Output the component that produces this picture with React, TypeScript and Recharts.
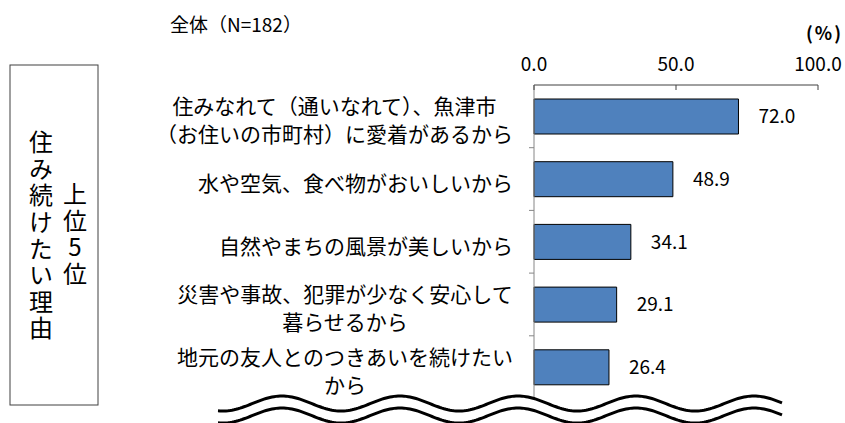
import React from 'react';
import { BarChart, Bar, XAxis, YAxis, LabelList } from 'recharts';

// chart data
const categories = [
    '住みなれて（通いなれて）、魚津市\n（お住いの市町村）に愛着があるから',
    '水や空気、食べ物がおいしいから',
    '自然やまちの風景が美しいから',
    '災害や事故、犯罪が少なく安心して\n暮らせるから',
    '地元の友人とのつきあいを続けたい\nから',
];
const values = [72.0, 48.9, 34.1, 29.1, 26.4];
const xTicks = [0, 50, 100];
const title = '全体（N=182）';
const unitLabel = '(%)';
const sideTitle = '住み続けたい理由';
const sideSubtitle = '上位5位';

const data = categories.map((name, i) => ({ name, value: values[i] }));

const W = 845;
const H = 423;
const PLOT_LEFT = 534;
const PLOT_TOP = 85;
const PLOT_BOTTOM = 398.5;
const BAND = (PLOT_BOTTOM - PLOT_TOP) / categories.length;
const FONT = '"Noto Sans CJK JP", "Noto Sans", sans-serif';

const textWidth = (s: string, fs: number) =>
    Array.from(s).reduce((w, c) => w + (c.charCodeAt(0) > 0x2000 ? fs : fs * 0.55), 0);

const YTick = (props: any) => {
    const { x, y, payload, index } = props;
    const lines = String(payload.value).split('\n');
    const fs = 21;
    const lh = 28;
    const maxW = Math.max(...lines.map((l) => textWidth(l, fs)));
    const cx = x - maxW / 2;
    const y0 = y - ((lines.length - 1) * lh) / 2 + 3;
    return (
        <g>
            {index > 0 && (
                <line x1={PLOT_LEFT - 5} x2={PLOT_LEFT} y1={y - BAND / 2} y2={y - BAND / 2} stroke="#868686" />
            )}
            {lines.map((l, i) => (
                <text
                    key={i}
                    x={cx}
                    y={y0 + i * lh}
                    textAnchor="middle"
                    dominantBaseline="central"
                    fontSize={fs}
                    fontFamily={FONT}
                    fill="#000"
                >
                    {l}
                </text>
            ))}
        </g>
    );
};

const XTick = (props: any) => {
    const { x, y, payload } = props;
    return (
        <g>
            <line x1={x} x2={x} y1={PLOT_TOP} y2={PLOT_TOP + 5} stroke="#404040" />
            <text x={x} y={y} textAnchor="middle" dominantBaseline="central" fontSize={19} fontFamily={FONT} fill="#000">
                {Number(payload.value).toFixed(1)}
            </text>
        </g>
    );
};

// the wavy "break" mark under the chart
const wavePoints = (offset: number) => {
    const pts: string[] = [];
    for (let x = 218; x <= 782; x += 2) {
        const y = 403.5 + offset - 7.5 * Math.cos((2 * Math.PI * (x - 282)) / 118);
        pts.push(`${x},${y.toFixed(2)}`);
    }
    return pts;
};

const verticalStyle: React.CSSProperties = {
    writingMode: 'vertical-rl',
    textOrientation: 'upright',
    letterSpacing: '2.6px',
};

const Overlay: React.FC = () => {
    const upper = wavePoints(0);
    const lower = wavePoints(12);
    return (
        <svg width={W} height={H} style={{ position: 'absolute', left: 0, top: 0, pointerEvents: 'none' }}>
            <text x={170} y={23} dominantBaseline="central" fontSize={19} fontFamily={FONT} fill="#000">
                {title}
            </text>
            <text
                x={843}
                y={32}
                textAnchor="end"
                dominantBaseline="central"
                fontSize={18}
                fontWeight="bold"
                letterSpacing={2}
                fontFamily={FONT}
                fill="#000"
            >
                {unitLabel}
            </text>
            <rect x={10} y={65} width={88} height={340} fill="#fff" stroke="#404040" strokeWidth={1} />
            <text x={41} y={130} fontSize={24} fontFamily={FONT} fill="#000" style={verticalStyle}>
                {sideTitle}
            </text>
            <text x={75} y={182} fontSize={24} fontFamily={FONT} fill="#000" style={verticalStyle}>
                {sideSubtitle}
            </text>
            <polygon points={[...upper, ...lower.slice().reverse()].join(' ')} fill="#fff" stroke="none" />
            <polyline points={upper.join(' ')} fill="none" stroke="#000" strokeWidth={3} />
            <polyline points={lower.join(' ')} fill="none" stroke="#000" strokeWidth={3} />
        </svg>
    );
};

export default function App() {
    return (
        <div style={{ position: 'absolute', left: 0, top: 0, width: W, height: H, background: '#fff', fontFamily: FONT }}>
            <BarChart
                width={W}
                height={H}
                data={data}
                layout="vertical"
                margin={{ top: 45, right: 27, bottom: H - PLOT_BOTTOM, left: 0 }}
            >
                <XAxis
                    type="number"
                    orientation="top"
                    domain={[0, 100]}
                    ticks={xTicks}
                    height={40}
                    tickLine={false}
                    tickSize={0}
                    tickMargin={23}
                    axisLine={{ stroke: '#404040' }}
                    tick={<XTick />}
                />
                <YAxis
                    type="category"
                    dataKey="name"
                    width={PLOT_LEFT}
                    interval={0}
                    tickLine={false}
                    tickSize={0}
                    tickMargin={21}
                    axisLine={{ stroke: '#868686' }}
                    tick={<YTick />}
                />
                <Bar dataKey="value" fill="#4F81BD" stroke="#000" strokeWidth={1} barSize={35} isAnimationActive={false}>
                    <LabelList
                        dataKey="value"
                        position="right"
                        offset={20}
                        formatter={(v: any) => Number(v).toFixed(1)}
                        fontSize={19}
                        fontFamily={FONT}
                        fill="#000"
                    />
                </Bar>
            </BarChart>
            <Overlay />
        </div>
    );
}
